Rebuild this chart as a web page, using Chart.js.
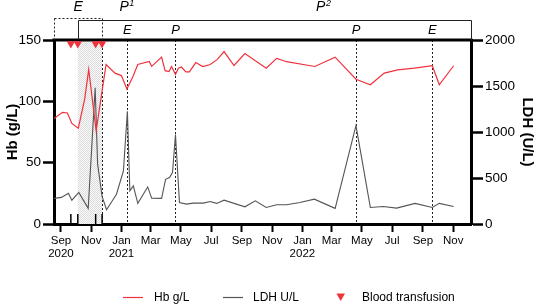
<!DOCTYPE html>
<html><head><meta charset="utf-8">
<script src="https://cdn.jsdelivr.net/npm/chart.js@4.4.1/dist/chart.umd.min.js"></script>
<style>html,body{margin:0;padding:0;background:#fff}canvas{display:block}</style>
</head><body>
<canvas id="c" width="540" height="305"></canvas>
<script>
// x values are days since 1 Sep 2020
const monthTickDays = [0,61,122,181,242,303,365,426,487,546,607,668,730,791];
const monthTickLabels = [['Sep','2020'],'Nov',['Jan','2021'],'Mar','May','Jul','Sep','Nov',['Jan','2022'],'Mar','May','Jul','Sep','Nov'];

const hbDay   = [-14,3,13,22,35,48,56,71,91,109,122,133,145,155,178,183,203,210,218,223,231,237,243,252,259,272,286,301,315,329,349,371,414,435,455,512,553,595,624,652,679,713,749,763,792];
const hbValue = [86,91,90.5,82,78,102,126,76,130,123,121,110,120,130,132.5,128.5,136,125,124.3,128.4,122,127,128,124,124,131.6,128.4,130,134,140.6,129.2,139,127,135,132.3,128.4,136,118,113.5,123,125.7,127,129,113.5,129];

const ldhDay   = [-14,1,15,22,36,55,69,74,83,92,112,126,134,139,146,155,175,183,203,211,219,225,231,239,253,267,287,301,314,329,371,392,414,435,455,482,511,553,595,624,650,677,714,749,763,792];
const ldhValue = [278,289,335,259,343,170,1480,650,300,155,324,576,1225,360,414,224,403,281,278,486,505,559,973,234,216,227,227,245,224,259,187,252,180,209,209,234,270,170,1070,180,191,173,224,180,224,191];

const transfusionDay = [20,34,70,83];
const eventDay   = [83,134,231,595,749];
const eventLabel = ['', 'E','P','P','E'];
const shadeRange = [34,83];
const periodStart = [-14,34,231];
const periodEnd   = [83,231,827];
const periodLabel = ['E','P','P'];
const periodSup   = ['','1','2'];

const RED = '#f0323c', GRAY = '#555555', FONT = '"Liberation Sans", Arial, Helvetica, sans-serif';
const MARK_Y = 147;

const pc = document.createElement('canvas'); pc.width = 2; pc.height = 2;
const pctx = pc.getContext('2d');
pctx.fillStyle = '#f9f9f9'; pctx.fillRect(0,0,2,2);
pctx.fillStyle = '#dcdcdc'; pctx.fillRect(0,0,1,1); pctx.fillRect(1,1,1,1);
const ctx0 = document.getElementById('c').getContext('2d');
const shadePattern = ctx0.createPattern(pc, 'repeat');

function vline(ctx, x, y0, y1) { ctx.beginPath(); ctx.moveTo(x, y0); ctx.lineTo(x, y1); ctx.stroke(); }
function hline(ctx, x0, x1, y) { ctx.beginPath(); ctx.moveTo(x0, y); ctx.lineTo(x1, y); ctx.stroke(); }

const annot = {
  id: 'annot',
  beforeDatasetsDraw(chart) {
    const {ctx, chartArea: a, scales: {x}} = chart;
    ctx.save();
    const s0 = x.getPixelForValue(shadeRange[0]), s1 = x.getPixelForValue(shadeRange[1]);
    ctx.fillStyle = shadePattern;
    ctx.fillRect(s0, a.top, s1 - s0, a.bottom - a.top);
    ctx.strokeStyle = '#222'; ctx.lineWidth = 1; ctx.setLineDash([2,2]);
    eventDay.forEach(d => { const px = Math.round(x.getPixelForValue(d)) + 0.5; vline(ctx, px, a.top, a.bottom); });
    ctx.setLineDash([]);
    ctx.strokeStyle = '#000'; ctx.lineWidth = 1.5;
    transfusionDay.forEach(d => { const px = x.getPixelForValue(d); vline(ctx, px, a.bottom - 10, a.bottom); });
    ctx.lineWidth = 3; hline(ctx, a.left - 1.5, a.right + 1.5, a.top);
    ctx.restore();
  },
  afterDraw(chart) {
    const {ctx, chartArea: a, scales: {x}} = chart;
    ctx.save();
    ctx.strokeStyle = '#222'; ctx.lineWidth = 1;
    const e0 = Math.round(x.getPixelForValue(periodStart[0])) + 0.5, e1 = Math.round(x.getPixelForValue(periodEnd[0])) + 0.5;
    ctx.setLineDash([2,2]);
    hline(ctx, e0, e1, 18.5); vline(ctx, e0, 18.5, a.top); vline(ctx, e1, 18.5, a.top);
    ctx.setLineDash([]);
    const p0 = Math.round(x.getPixelForValue(periodStart[1])) + 0.5, p1 = Math.round(x.getPixelForValue(periodEnd[2])) + 0.5;
    hline(ctx, p0, p1, 20.5); vline(ctx, p0, 20.5, a.top); vline(ctx, p1, 20.5, a.top);
    ctx.fillStyle = '#000'; ctx.textBaseline = 'middle';
    periodLabel.forEach((lab, i) => {
      const cx = (x.getPixelForValue(periodStart[i]) + x.getPixelForValue(periodEnd[i])) / 2;
      ctx.font = 'italic 14px ' + FONT;
      const w = ctx.measureText(lab).width;
      ctx.font = 'italic 9px ' + FONT;
      const ws = periodSup[i] ? ctx.measureText(periodSup[i]).width : 0;
      const left = cx - (w + ws) / 2;
      ctx.font = 'italic 14px ' + FONT; ctx.textAlign = 'left';
      ctx.fillText(lab, left, 7.5);
      if (periodSup[i]) { ctx.font = 'italic 9px ' + FONT; ctx.fillText(periodSup[i], left + w + 0.5, 3); }
    });
    ctx.font = 'italic 13px ' + FONT; ctx.textAlign = 'center';
    eventDay.forEach((d, i) => { if (eventLabel[i]) ctx.fillText(eventLabel[i], x.getPixelForValue(d), 30); });
    const ly = 297.5;
    ctx.lineWidth = 1.2;
    ctx.strokeStyle = RED; hline(ctx, 123, 143, ly);
    ctx.strokeStyle = GRAY; hline(ctx, 223, 243, ly);
    ctx.fillStyle = RED;
    ctx.beginPath(); ctx.moveTo(336.5, ly - 4); ctx.lineTo(345, ly - 4); ctx.lineTo(340.7, ly + 3.5); ctx.closePath(); ctx.fill();
    ctx.fillStyle = '#000'; ctx.font = '12px ' + FONT; ctx.textAlign = 'left';
    ctx.fillText('Hb g/L', 154, ly);
    ctx.fillText('LDH U/L', 253, ly);
    ctx.fillText('Blood transfusion', 362, ly);
    ctx.restore();
  }
};

new Chart(ctx0, {
  type: 'line',
  data: {
    datasets: [
      { label: 'Hb g/L', data: hbDay.map((d, i) => ({x: d, y: hbValue[i]})), yAxisID: 'y',
        borderColor: RED, borderWidth: 1.2, pointRadius: 0, tension: 0, fill: false },
      { label: 'LDH U/L', data: ldhDay.map((d, i) => ({x: d, y: ldhValue[i]})), yAxisID: 'y2',
        borderColor: GRAY, borderWidth: 1.1, pointRadius: 0, tension: 0, fill: false },
      { label: 'Blood transfusion', type: 'scatter', data: transfusionDay.map(d => ({x: d, y: MARK_Y})), yAxisID: 'y',
        pointStyle: 'triangle', rotation: 180, pointRadius: 4.8, backgroundColor: RED, borderColor: RED, borderWidth: 0, clip: false }
    ]
  },
  options: {
    responsive: false, animation: false, devicePixelRatio: 1,
    layout: { padding: { top: 40, left: 0, right: 0, bottom: 0 } },
    plugins: { legend: { display: false }, tooltip: { enabled: false } },
    scales: {
      x: {
        type: 'linear', min: -14, max: 827, position: 'bottom',
        afterBuildTicks: s => { s.ticks = monthTickDays.map(v => ({value: v})); },
        afterFit: s => { s.height = 81; },
        border: { display: true, color: '#000', width: 3 },
        grid: { display: true, drawOnChartArea: false, drawTicks: true, tickLength: 8, tickWidth: 2, tickColor: '#000' },
        ticks: { autoSkip: false, maxRotation: 0, padding: 2, color: '#000', font: { size: 11.5, family: FONT, lineHeight: 1.15 },
          callback: (v, i) => monthTickLabels[i] }
      },
      y: {
        position: 'left', min: 0, max: 150,
        afterFit: s => { s.width = 54; },
        border: { display: true, color: '#000', width: 3 },
        grid: { display: true, drawOnChartArea: false, drawTicks: true, tickLength: 11, tickWidth: 2.5, tickColor: '#000' },
        ticks: { stepSize: 50, padding: 2, color: '#000', font: { size: 13.5, family: FONT }, callback: v => String(v) },
        title: { display: true, text: 'Hb (g/L)', color: '#000', font: { size: 15, weight: 'bold', family: FONT }, padding: { top: 4, bottom: 0 } }
      },
      y2: {
        position: 'right', min: 0, max: 2000,
        afterFit: s => { s.width = 69; },
        border: { display: true, color: '#000', width: 3 },
        grid: { display: true, drawOnChartArea: false, drawTicks: true, tickLength: 12, tickWidth: 2.5, tickColor: '#000' },
        ticks: { stepSize: 500, padding: 2, color: '#000', font: { size: 13.5, family: FONT }, callback: v => String(v) },
        title: { display: true, text: 'LDH (U/L)', color: '#000', font: { size: 15, weight: 'bold', family: FONT }, padding: { top: 4, bottom: 0 } }
      }
    }
  },
  plugins: [annot]
});
</script>
</body></html>
